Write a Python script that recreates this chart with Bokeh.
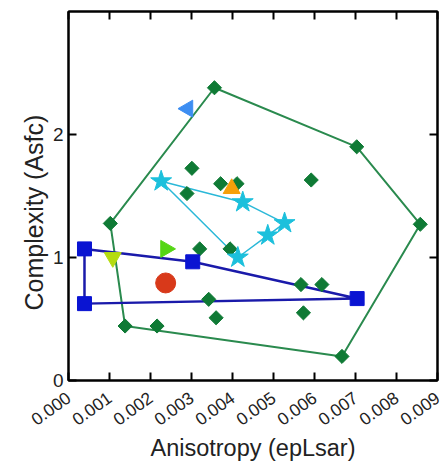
import math
from bokeh.plotting import figure
from bokeh.models import FixedTicker, LinearAxis, Range1d, Title
from bokeh.embed import file_html
from bokeh.resources import INLINE

# Green diamonds (all points) and their hull polygon
dia_x = [0.00356, 0.00703, 0.00858, 0.00667, 0.00138, 0.00102,
         0.00301, 0.00371, 0.00411, 0.00592, 0.00289, 0.00320, 0.00394,
         0.00567, 0.00618, 0.00342, 0.00360, 0.00573, 0.00216]
dia_y = [2.38, 1.90, 1.27, 0.196, 0.443, 1.277,
         1.725, 1.60, 1.60, 1.63, 1.52, 1.07, 1.07,
         0.78, 0.78, 0.66, 0.51, 0.55, 0.443]
hull_x = [0.00356, 0.00703, 0.00858, 0.00667, 0.00138, 0.00102, 0.00356]
hull_y = [2.38, 1.90, 1.27, 0.196, 0.443, 1.277, 2.38]

# Blue squares polygon
sq_x = [0.00039, 0.00303, 0.00704, 0.00039]
sq_y = [1.07, 0.965, 0.666, 0.625]

# Cyan stars polygon
star_x = [0.00226, 0.00425, 0.00527, 0.00486, 0.00413]
star_y = [1.62, 1.45, 1.28, 1.18, 1.00]

# Single points
orange_tri = (0.00398, 1.56)
blue_tri = (0.00291, 2.21)
lime_down = (0.00108, 1.00)
green_right = (0.00237, 1.07)
red_circle = (0.00237, 0.793)

x_ticks = [0.000, 0.001, 0.002, 0.003, 0.004, 0.005, 0.006, 0.007, 0.008, 0.009]
y_ticks = [0, 1, 2]

FONT = "Liberation Sans"

p = figure(width=444, height=463, output_backend="svg", toolbar_location=None,
           x_range=Range1d(0, 0.009), y_range=Range1d(0, 3),
           min_border_left=68, min_border_right=7, min_border_top=11, min_border_bottom=75)
p.grid.visible = False
p.outline_line_color = "black"
p.outline_line_width = 2

# Hull lines
p.line(hull_x, hull_y, line_color="#2a8a4e", line_width=2)
p.line(sq_x + [sq_x[0]], sq_y + [sq_y[0]], line_color="#1a1aaa", line_width=2.5)
p.line(star_x + [star_x[0]], star_y + [star_y[0]], line_color="#2ab8d8", line_width=1.5)

# Markers
p.scatter(dia_x, dia_y, marker="square", size=10, angle=math.pi / 4,
          fill_color="#0f7a35", line_color="#0f7a35")
p.scatter(sq_x, sq_y, marker="square", size=14, fill_color="#0a14d2", line_color="#0a14d2")
p.scatter(star_x, star_y, marker="star", size=22, fill_color="#1cc0dc", line_color="#1cc0dc")
p.scatter([orange_tri[0]], [orange_tri[1]], marker="triangle", size=17,
          fill_color="#f5a00a", line_color="#f5a00a")
p.scatter([blue_tri[0]], [blue_tri[1]], marker="triangle", size=17, angle=math.pi / 2,
          fill_color="#3d8ef2", line_color="#3d8ef2")
p.scatter([lime_down[0]], [lime_down[1]], marker="inverted_triangle", size=17,
          fill_color="#b4dc10", line_color="#b4dc10")
p.scatter([green_right[0]], [green_right[1]], marker="triangle", size=17, angle=-math.pi / 2,
          fill_color="#55d615", line_color="#55d615")
p.scatter([red_circle[0]], [red_circle[1]], marker="circle", size=20,
          fill_color="#d8391a", line_color="#d8391a")

# Axes styling
xa = p.xaxis[0]
xa.ticker = FixedTicker(ticks=x_ticks)
xa.major_label_overrides = {t: f"{t:.3f}" for t in x_ticks}
xa.major_label_orientation = 0.62
xa.major_label_standoff = 15
xa.axis_label = "Anisotropy (epLsar)"
xa.axis_label_standoff = 0

ya = p.yaxis[0]
ya.ticker = FixedTicker(ticks=y_ticks)

for ax in (xa, ya):
    ax.major_tick_in = 8
    ax.major_tick_out = 0
    ax.minor_tick_in = 0
    ax.minor_tick_out = 0
    ax.major_tick_line_width = 2
    ax.axis_line_width = 2
    ax.major_label_text_font = FONT
    ax.axis_label_text_font = FONT
    ax.axis_label_text_font_style = "normal"
    ax.major_label_text_color = "#222222"
    ax.axis_label_text_color = "#222222"
xa.axis_label_text_font_size = "23.5px"
xa.major_label_text_font_size = "17.5px"
ya.major_label_text_font_size = "19px"

ytitle = Title(text="Complexity (Asfc)", align="left", offset=70,
               text_font=FONT, text_font_size="25px", text_font_style="normal",
               text_color="#222222", standoff=4)
p.add_layout(ytitle, "left")

top = LinearAxis(ticker=FixedTicker(ticks=x_ticks),
                 major_label_overrides={t: "" for t in x_ticks},
                 major_tick_in=8, major_tick_out=0, minor_tick_in=0, minor_tick_out=0,
                 major_tick_line_width=2, axis_line_width=2)
right = LinearAxis(ticker=FixedTicker(ticks=y_ticks),
                   major_label_overrides={t: "" for t in y_ticks},
                   major_tick_in=8, major_tick_out=0, minor_tick_in=0, minor_tick_out=0,
                   major_tick_line_width=2, axis_line_width=2)
p.add_layout(top, "above")
p.add_layout(right, "right")

open("out.html", "w").write(file_html(p, INLINE))
